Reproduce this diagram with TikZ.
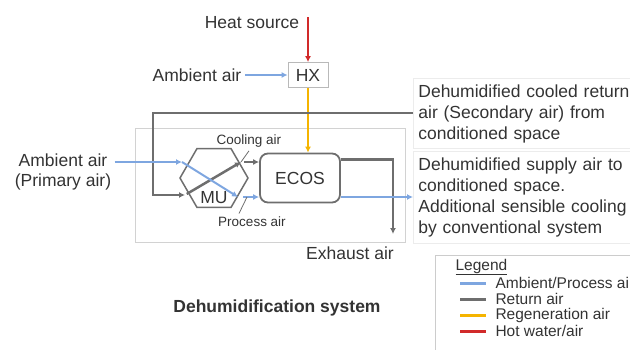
\documentclass[tikz,border=0pt]{standalone}
\usepackage{fontspec}
\setmainfont{Liberation Sans}
\usetikzlibrary{arrows.meta,shapes.geometric}
\definecolor{ambblue}{HTML}{7EA6E0}
\definecolor{retgray}{HTML}{6E6E6E}
\definecolor{regorange}{HTML}{F5B400}
\definecolor{hotred}{HTML}{D12A2A}
\definecolor{ink}{HTML}{333333}
\tikzset{>={Latex[length=6pt,width=6pt]},x=1pt,y=-1pt,
  every node/.style={font=\fontsize{17.5}{21}\selectfont,text=ink},
  ambair/.style={draw=ambblue,line width=2pt},
  retair/.style={draw=retgray,line width=2.5pt},
  regair/.style={draw=regorange,line width=2.5pt},
  hotair/.style={draw=hotred,line width=2pt},
  leader/.style={draw=retgray,line width=.8pt},
  smalltext/.style={font=\fontsize{13.5}{16}\selectfont},
  legtext/.style={font=\fontsize{15.5}{18}\selectfont,anchor=west},
  hxbox/.style={draw=gray!55,line width=.8pt,minimum width=40pt,minimum height=25pt,inner sep=0pt},
  unitbox/.style={draw=retgray,line width=1.8pt,rounded corners=8pt,minimum width=80pt,minimum height=49pt},
  hexbox/.style={regular polygon,regular polygon sides=6,draw=retgray,line width=1.5pt,minimum size=68pt,inner sep=0pt},
  sysbox/.style={draw=gray!35,line width=.8pt,minimum width=270pt,minimum height=114pt},
  txtbox/.style={draw=gray!15,line width=.8pt,anchor=north west,align=left,text width=240pt,inner xsep=5pt}}
\begin{document}
\begin{tikzpicture}
\clip(0,0)rectangle(630,349);
\node(heat)at(252,23){Heat source};
\node[hxbox](hx)at(308,75){HX};
\node(amb1)at(197,75){Ambient air};
\node[sysbox](sys)at(270,185){};
\node[unitbox](ecos)at(300,178){ECOS};
\node[hexbox](mu)at(214,178){};
\node(mutxt)at(214,198){MU};
\node[align=center,font=\fontsize{17.5}{19.5}\selectfont](amb2)at(63,172){Ambient air\\(Primary air)};
\node[smalltext](cool)at(249,141){Cooling air};
\node[smalltext](proc)at(252,222){Process air};
\node(exh)at(350,253){Exhaust air};
\node[font=\fontsize{17.5}{21}\selectfont\bfseries](title)at(277,308){Dehumidification system};
\node[txtbox,minimum height=70pt,inner ysep=6pt](rett)at(413,78){Dehumidified cooled return\\air (Secondary air) from\\conditioned space};
\node[txtbox,minimum height=92pt,inner ysep=5pt](sup)at(413,151){Dehumidified supply air to\\conditioned space.\\Additional sensible cooling\\by conventional system};
\coordinate(hsrc)at(308,17);\coordinate(gin)at(185,195);\coordinate(gout)at(241,162);
\coordinate(bin)at(182,162);\coordinate(bout)at(238,197);\coordinate(exend)at(393,234);
\coordinate(pl)at(247,197);
\draw[hotair,->](hsrc)--(hx.north);
\draw[ambair,->](amb1.east)--(hx.west);
\draw[regair,->](hx.south)--(hx.south|-ecos.north);
\draw[retair,->](rett.west|-0,113)-|(gin-|153,0)--(gin);
\draw[retair,->,shorten <=2pt](gin)--(gout);
\draw[retair,->,shorten <=3pt](gout)--(ecos.west|-gout);
\draw[ambair,->](amb2.east|-bin)--(bin);
\draw[ambair,->](bin)--(bout);
\draw[ambair,->,shorten <=5pt](bout)--(ecos.west|-bout);
\draw[leader](cool.south)--(gout);
\draw[leader]([xshift=-13pt]proc.north)--(pl);
\draw[retair,->]([yshift=-7pt]ecos.north east)-|(exend);
\draw[ambair,->](ecos.east|-bout)--(sup.west|-bout);
\node[draw=gray!40,line width=.8pt,anchor=north west,minimum width=250pt,minimum height=120pt](legbox)at(435,255){};
\node[legtext](legtitle)at(452,267){\underline{Legend}};
\foreach \c/\t[count=\i]in{ambblue/{Ambient/Process air},retgray/{Return air},regorange/{Regeneration air},hotred/{Hot water/air}}{
\draw[draw=\c,line width=3pt](460,267+16*\i)--(486,267+16*\i);\node[legtext](leg\i)at(492,267+16*\i){\t};}
\end{tikzpicture}
\end{document}
